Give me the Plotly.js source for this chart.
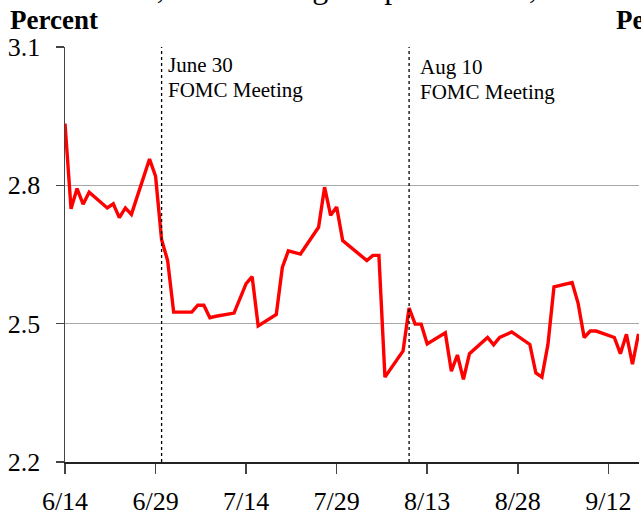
<!DOCTYPE html>
<html>
<head>
<meta charset="utf-8">
<script src="https://cdn.plot.ly/plotly-3.0.1.min.js"></script>
<style>html,body{margin:0;padding:0;background:#fff;}#chart{width:641px;height:515px;}</style>
</head>
<body>
<div id="chart"></div>
<script>
// ---- data ----
const dates = [
  '2004-06-14','2004-06-15','2004-06-16','2004-06-17','2004-06-18',
  '2004-06-21','2004-06-22','2004-06-23','2004-06-24','2004-06-25',
  '2004-06-28','2004-06-29','2004-06-30','2004-07-01','2004-07-02',
  '2004-07-05','2004-07-06','2004-07-07','2004-07-08','2004-07-09',
  '2004-07-12','2004-07-13','2004-07-14','2004-07-15','2004-07-16',
  '2004-07-19','2004-07-20','2004-07-21','2004-07-22','2004-07-23',
  '2004-07-26','2004-07-27','2004-07-28','2004-07-29','2004-07-30',
  '2004-08-02','2004-08-03','2004-08-04','2004-08-05','2004-08-06',
  '2004-08-09','2004-08-10','2004-08-11','2004-08-12','2004-08-13',
  '2004-08-16','2004-08-17','2004-08-18','2004-08-19','2004-08-20',
  '2004-08-23','2004-08-24','2004-08-25','2004-08-26','2004-08-27',
  '2004-08-30','2004-08-31','2004-09-01','2004-09-02','2004-09-03',
  '2004-09-06','2004-09-07','2004-09-08','2004-09-09','2004-09-10',
  '2004-09-13','2004-09-14','2004-09-15','2004-09-16','2004-09-17'
];
const values = [
  2.934,2.749,2.793,2.759,2.785,
  2.751,2.760,2.730,2.751,2.737,
  2.857,2.820,2.682,2.637,2.525,
  2.525,2.540,2.540,2.513,2.516,
  2.523,2.553,2.587,2.602,2.495,
  2.520,2.622,2.658,2.654,2.651,
  2.709,2.796,2.735,2.753,2.680,
  2.647,2.637,2.648,2.648,2.384,
  2.441,2.534,2.499,2.499,2.456,
  2.480,2.397,2.432,2.379,2.435,
  2.470,2.454,2.470,2.476,2.482,
  2.455,2.393,2.384,2.455,2.580,
  2.589,2.544,2.470,2.484,2.484,
  2.470,2.435,2.477,2.412,2.478
];
const meetingDates = ['2004-06-30','2004-08-10'];
const meetingLine1 = ['June 30','Aug 10'];
const meetingLine2 = ['FOMC Meeting','FOMC Meeting'];
const titleText = 'June 14, 2004 through September 17, 2004';
const unitLabel = 'Percent';
const xRange = ['2004-06-14','2004-09-17 02:00'];
const yRange = [2.2, 3.1];

// ---- layout helpers ----
const M = {l:65, r:2, t:47, b:53};
const H = 515 - M.t - M.b;
const py = p => 1 + (M.t - p) / H; // pixel y -> paper y
const serif = 'Liberation Serif, Times New Roman, serif';

const shapes = meetingDates.map(d => ({
  type:'line', xref:'x', yref:'paper', x0:d, x1:d, y0:0, y1:1,
  line:{color:'#000', width:1.3, dash:'dot'}
}));

const annYs = [[64.6, 89.6],[66.9, 92.4]];
const annXs = [4, 9];
const annotations = [];
meetingDates.forEach((d,i) => {
  annotations.push({xref:'x', yref:'paper', x:d, y:py(annYs[i][0]), xanchor:'left', yanchor:'middle',
    xshift:annXs[i], text:meetingLine1[i], showarrow:false, font:{family:serif, size:21, color:'#000'}});
  annotations.push({xref:'x', yref:'paper', x:d, y:py(annYs[i][1]), xanchor:'left', yanchor:'middle',
    xshift:annXs[i], text:meetingLine2[i], showarrow:false, font:{family:serif, size:21, color:'#000'}});
});
annotations.push({xref:'paper', yref:'paper', x:(8-M.l)/574, y:py(19.5), xanchor:'left', yanchor:'middle',
  text:'<b>'+unitLabel+'</b>', showarrow:false, font:{family:serif, size:27, color:'#000'}});
annotations.push({xref:'paper', yref:'paper', x:(614-M.l)/574, y:py(19.5), xanchor:'left', yanchor:'middle',
  text:'<b>'+unitLabel+'</b>', showarrow:false, font:{family:serif, size:27, color:'#000'}});
annotations.push({xref:'paper', yref:'paper', x:(333-M.l)/574, y:py(-13), xanchor:'center', yanchor:'middle',
  text:titleText, showarrow:false, font:{family:serif, size:32, color:'#000'}});

const trace = {
  x: dates, y: values, type:'scatter', mode:'lines',
  line:{color:'#ff0000', width:3.4}, hoverinfo:'skip'
};

const layout = {
  width:641, height:515,
  margin:M,
  paper_bgcolor:'#fff', plot_bgcolor:'#fff',
  showlegend:false,
  font:{family:serif, color:'#000'},
  xaxis:{
    type:'date', range:xRange, tickmode:'linear', tick0:'2004-06-14', dtick:15*86400000,
    tickformat:'%-m/%-d', ticks:'outside', ticklen:10, tickwidth:1.5, tickcolor:'#444',
    showgrid:false, zeroline:false, showline:true, linecolor:'#222', linewidth:2,
    tickfont:{family:serif, size:26, color:'#000'}, ticklabelstandoff:5
  },
  yaxis:{
    range:yRange, tickmode:'linear', tick0:2.2, dtick:0.3, tickformat:'.1f',
    ticks:'outside', ticklen:8, tickwidth:1.5, tickcolor:'#444',
    showgrid:true, gridcolor:'#a8a8a8', gridwidth:1.5, zeroline:false,
    showline:true, linecolor:'#444', linewidth:1.5,
    tickfont:{family:serif, size:26, color:'#000'}, ticklabelstandoff:10
  },
  yaxis2:{
    range:yRange, overlaying:'y', side:'right', tickmode:'linear', tick0:2.2, dtick:0.3,
    ticks:'inside', ticklen:9, tickwidth:1.5, tickcolor:'#000',
    showgrid:false, zeroline:false, showline:true, linecolor:'#000', linewidth:2,
    showticklabels:false
  },
  shapes: shapes,
  annotations: annotations
};

Plotly.newPlot('chart', [trace], layout, {staticPlot:true, displayModeBar:false});
</script>
</body>
</html>
